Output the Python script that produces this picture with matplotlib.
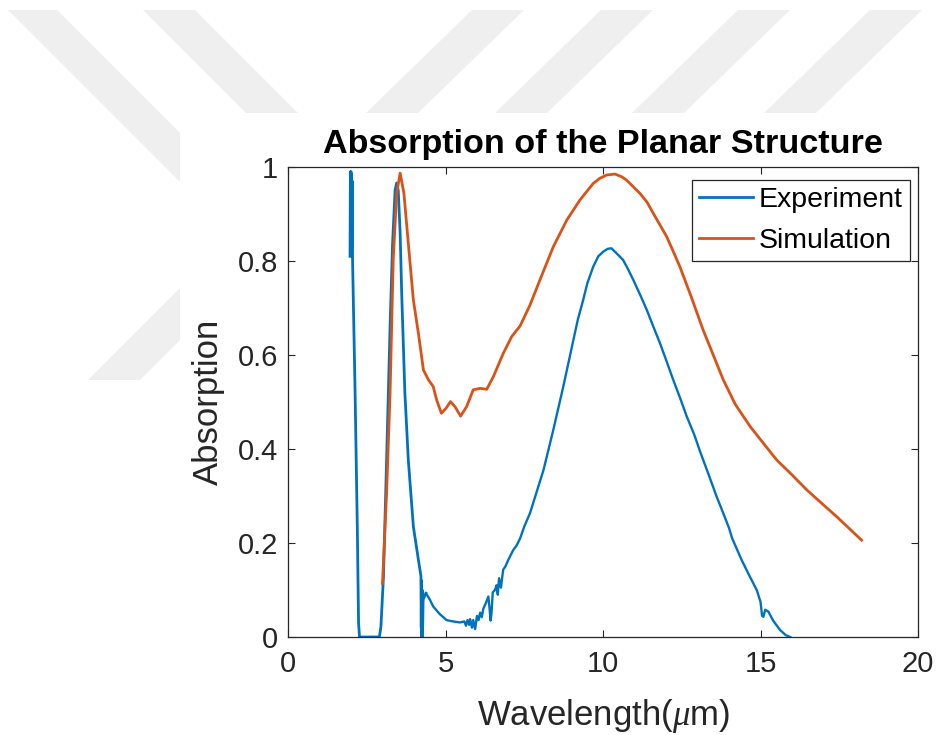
import matplotlib
matplotlib.use('Agg')
import matplotlib.pyplot as plt
from matplotlib.patches import Polygon, Rectangle

plt.rcParams['font.family'] = ['Liberation Sans', 'DejaVu Sans']
plt.rcParams['mathtext.fontset'] = 'custom'
plt.rcParams['mathtext.it'] = 'Liberation Serif:italic'

# measured absorption, near-IR part of the spectrum
exp_nir_wl = [1.97, 1.98, 1.99, 2.00, 2.01, 2.02, 2.03, 2.04, 2.05, 2.13,
              2.20, 2.24, 2.27, 2.60, 2.90, 2.95, 3.03, 3.13, 3.24, 3.32,
              3.40, 3.45, 3.50, 3.56, 3.61, 3.71, 3.82, 3.98, 4.14, 4.22,
              4.23, 4.24, 4.25, 4.26, 4.27, 4.29, 4.38]
exp_nir_abs = [0.81, 0.99, 0.84, 0.99, 0.86, 0.985, 0.83, 0.97, 0.80, 0.52,
               0.235, 0.03, 0.0, 0.0, 0.0, 0.022, 0.128, 0.376, 0.66, 0.837,
               0.951, 0.966, 0.95, 0.86, 0.73, 0.52, 0.376, 0.235, 0.164, 0.13,
               0.02, 0.12, 0.0, 0.10, 0.0, 0.08, 0.093]

# measured absorption, mid-IR part (FTIR)
exp_mir_wl = [4.38, 4.50, 4.61, 4.80, 5.03, 5.25, 5.46, 5.60, 5.65, 5.70,
              5.75, 5.78, 5.84, 5.88, 5.94, 6.00, 6.05, 6.10, 6.15, 6.20,
              6.28, 6.36, 6.40, 6.43, 6.46, 6.50, 6.57, 6.62, 6.66, 6.70,
              6.76, 6.83, 6.90, 7.00, 7.15, 7.26, 7.37, 7.50, 7.68, 7.90,
              8.11, 8.42, 8.74, 9.06, 9.20, 9.37, 9.50, 9.69, 9.85, 10.01,
              10.15, 10.27, 10.45, 10.64, 10.80, 10.96, 11.20, 11.39, 11.60, 11.81,
              12.00, 12.23, 12.45, 12.66, 12.90, 13.08, 13.40, 13.60, 13.82, 14.00,
              14.10, 14.40, 14.65, 14.88, 15.00, 15.05, 15.09, 15.15, 15.25, 15.40,
              15.62, 15.80, 15.94]
exp_mir_abs = [0.093, 0.08, 0.065, 0.05, 0.036, 0.033, 0.031, 0.033, 0.024, 0.036,
               0.026, 0.038, 0.02, 0.036, 0.017, 0.045, 0.036, 0.052, 0.042, 0.06,
               0.072, 0.086, 0.06, 0.035, 0.05, 0.095, 0.10, 0.11, 0.09, 0.125,
               0.105, 0.143, 0.15, 0.165, 0.185, 0.195, 0.21, 0.235, 0.263, 0.31,
               0.355, 0.44, 0.533, 0.632, 0.675, 0.717, 0.752, 0.788, 0.81, 0.82,
               0.826, 0.827, 0.815, 0.802, 0.782, 0.76, 0.725, 0.696, 0.66, 0.625,
               0.59, 0.547, 0.508, 0.469, 0.43, 0.395, 0.337, 0.30, 0.263, 0.232,
               0.21, 0.164, 0.13, 0.10, 0.075, 0.045, 0.043, 0.058, 0.054, 0.035,
               0.015, 0.004, 0.0]

sim_wl = [3.00, 3.13, 3.24, 3.34, 3.45, 3.56, 3.68, 3.82, 3.98, 4.14,
          4.30, 4.46, 4.61, 4.72, 4.87, 5.02, 5.16, 5.30, 5.48, 5.67,
          5.88, 6.10, 6.31, 6.52, 6.83, 7.10, 7.37, 7.68, 8.00, 8.42,
          8.85, 9.27, 9.69, 9.90, 10.12, 10.38, 10.60, 10.75, 11.17, 11.40,
          11.60, 12.02, 12.20, 12.44, 12.80, 13.18, 13.50, 13.82, 14.20, 14.67,
          15.00, 15.51, 16.00, 16.47, 17.00, 17.42, 18.21]
sim_abs = [0.114, 0.306, 0.519, 0.802, 0.944, 0.987, 0.944, 0.837, 0.717, 0.646,
           0.568, 0.547, 0.533, 0.504, 0.476, 0.487, 0.501, 0.49, 0.47, 0.49,
           0.526, 0.529, 0.527, 0.554, 0.603, 0.639, 0.662, 0.706, 0.76, 0.83,
           0.887, 0.93, 0.965, 0.976, 0.983, 0.985, 0.979, 0.972, 0.944, 0.925,
           0.901, 0.852, 0.825, 0.788, 0.724, 0.653, 0.60, 0.547, 0.495, 0.448,
           0.42, 0.377, 0.345, 0.313, 0.281, 0.256, 0.206]

x_ticks = [0, 5, 10, 15, 20]
y_ticks = [0, 0.2, 0.4, 0.6, 0.8, 1]

blue = '#0072BD'
orange = '#D95319'
dark = '#262626'

fig = plt.figure(figsize=(9.45, 7.35), dpi=100)

# faint watermark stripes behind the figure (pixel coordinates, y down)
bg = fig.add_axes([0, 0, 1, 1], zorder=-10)
bg.set_xlim(0, 945)
bg.set_ylim(735, 0)
bg.axis('off')
stripes = [
    [(8, 10), (57, 10), (180, 133), (180, 182)],
    [(143, 10), (195, 10), (298, 113), (246, 113)],
    [(88, 380), (180, 288), (180, 340), (140, 380)],
]
for x0 in [472, 601, 738, 870]:
    stripes.append([(x0, 10), (x0 + 52, 10), (x0 - 54, 113), (x0 - 106, 113)])
for pts in stripes:
    bg.add_patch(Polygon(pts, closed=True, facecolor='#efefef', edgecolor='none'))
bg.add_patch(Rectangle((180, 113), 765, 622, facecolor='white', edgecolor='none'))

ax = fig.add_axes([288 / 945, 98 / 735, 630 / 945, 470 / 735])
ax.plot(exp_nir_wl, exp_nir_abs, color=blue, lw=2.0, label='Experiment')
ax.plot(sim_wl, sim_abs, color=orange, lw=2.0, label='Simulation')
ax.plot(exp_mir_wl, exp_mir_abs, color=blue, lw=1.7)

ax.set_xlim(0, 20)
ax.set_ylim(0, 1)
ax.set_xticks(x_ticks)
ax.set_xticklabels(['0', '5', '10', '15', '20'])
ax.set_yticks(y_ticks)
ax.set_yticklabels(['0', '0.2', '0.4', '0.6', '0.8', '1'])
ax.tick_params(axis='both', direction='in', top=True, right=True, length=5,
               width=0.8, colors=dark, labelsize=21)
ax.tick_params(axis='x', pad=9)
ax.tick_params(axis='y', pad=7)
for sp in ax.spines.values():
    sp.set_color(dark)
    sp.set_linewidth(0.9)

ax.set_xlabel('Wavelength($\\mu$m)', fontsize=25, color=dark, labelpad=14)
ax.set_ylabel('Absorption', fontsize=25, color=dark, labelpad=9)
ax.set_title('Absorption of the Planar Structure', fontsize=24.6, fontweight='bold',
             color='black', pad=10)

leg = ax.legend(loc='upper right', bbox_to_anchor=(0.987, 0.972), borderaxespad=0,
                fontsize=20.5, fancybox=False, framealpha=1, edgecolor=dark,
                handlelength=1.9, handletextpad=0.2, borderpad=0.25,
                labelspacing=0.5)
leg.get_frame().set_linewidth(0.9)

fig.savefig('out.png', dpi=100, facecolor='white')
